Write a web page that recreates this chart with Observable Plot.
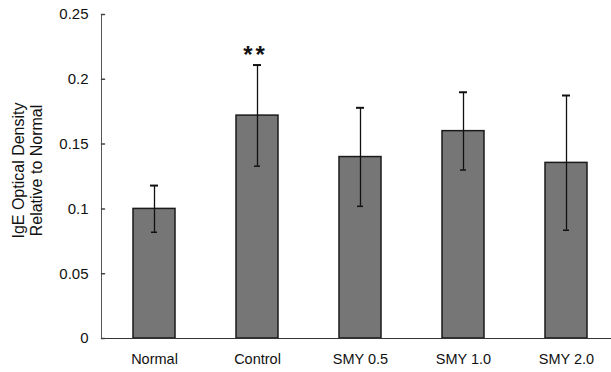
<!DOCTYPE html>
<html>
<head>
<meta charset="utf-8">
<script src="https://cdn.jsdelivr.net/npm/d3@7"></script>
<script src="https://cdn.jsdelivr.net/npm/@observablehq/plot@0.6"></script>
<style>
  html, body { margin: 0; padding: 0; background: #fff; }
  #chart svg { display: block; }
  .stars text { letter-spacing: 3px; }
</style>
</head>
<body>
<div id="chart"></div>
<script>
const groups = ["Normal", "Control", "SMY 0.5", "SMY 1.0", "SMY 2.0"];
const means = [0.100, 0.172, 0.140, 0.160, 0.1355];
const errors = [0.018, 0.039, 0.038, 0.030, 0.052];
const marks = ["", "**", "", "", ""];
const yTicks = [0, 0.05, 0.1, 0.15, 0.2, 0.25];

const data = groups.map((g, i) => ({group: g, mean: means[i], err: errors[i], mark: marks[i]}));

const tickShape = {draw(context, l) { context.moveTo(0, 0); context.lineTo(0, -l); }};

const chart = Plot.plot({
  width: 611,
  height: 372,
  marginLeft: 101,
  marginRight: 0,
  marginTop: 14,
  marginBottom: 34,
  style: {fontFamily: "Liberation Sans, Arial, sans-serif", fontSize: "14px", color: "#111", background: "#fff"},
  x: {domain: groups, range: [102.5, 617.5], paddingInner: 0.59, paddingOuter: 0.295, label: null},
  y: {domain: [0, 0.25], label: null},
  marks: [
    Plot.barY(data, {x: "group", y: "mean", fill: "#767676", stroke: "#1a1a1a", strokeWidth: 1.5}),
    Plot.ruleX(data, {x: "group", y1: d => d.mean - d.err, y2: d => d.mean + d.err, stroke: "#111", strokeWidth: 1.3}),
    Plot.tickY(data, {x: "group", y: d => d.mean + d.err, stroke: "#111", strokeWidth: 2, inset: 17}),
    Plot.tickY(data, {x: "group", y: d => d.mean - d.err, stroke: "#111", strokeWidth: 1.5, inset: 18}),
    Plot.text(data, {x: "group", y: d => d.mean + d.err, text: "mark", dy: -10, dx: -2, fontSize: 24, fontWeight: "bold", fill: "#111", className: "stars"}),
    Plot.frame({anchor: "left", stroke: "#555", strokeWidth: 1}),
    Plot.frame({anchor: "bottom", stroke: "#333", strokeWidth: 1}),
    Plot.vector(yTicks, {y: d => d, frameAnchor: "left", length: 3, rotate: 90, anchor: "start", shape: tickShape, stroke: "#444"}),
    Plot.axisY({ticks: yTicks, tickFormat: d => String(d), tickSize: 0, tickPadding: 13, fontSize: 15}),
    Plot.axisX({tickSize: 0, tickPadding: 15, fontSize: 14.5}),
    Plot.text(["IgE Optical Density"], {frameAnchor: "left", textAnchor: "middle", dx: -83, dy: -6, rotate: -90, fontSize: 16, fill: "#111"}),
    Plot.text(["Relative to Normal"], {frameAnchor: "left", textAnchor: "middle", dx: -65, dy: -6, rotate: -90, fontSize: 16, fill: "#111"})
  ]
});
document.getElementById("chart").appendChild(chart);
</script>
</body>
</html>
